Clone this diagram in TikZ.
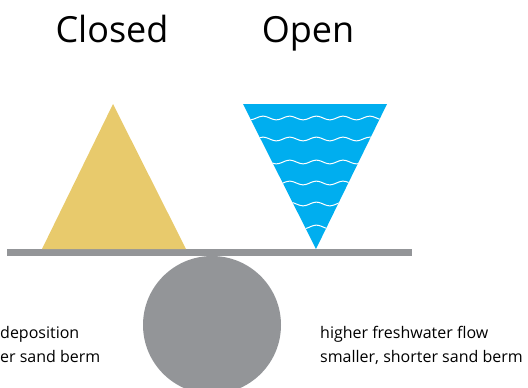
\documentclass[tikz,border=0pt]{standalone}
\usepackage{fontspec}
\setmainfont{Open Sans}
\definecolor{sand}{HTML}{E8CA6C}
\definecolor{water}{HTML}{00AEEF}
\definecolor{beam}{HTML}{939598}
\tikzset{
  title/.style={font=\fontsize{36}{40}\selectfont, inner sep=0pt, anchor=base},
  caption/.style={font=\fontsize{16}{24}\selectfont, align=left, inner sep=0pt, anchor=north west},
  wave/.style={white, line width=1pt}
}
\begin{document}
\begin{tikzpicture}[x=1pt,y=-1pt]
\useasboundingbox (0,0) rectangle (528,388);
\clip (0,0) rectangle (528,388);
\fill[beam] (212,325) circle (69);
\fill[beam] (7,249) rectangle (412,256);
\fill[sand] (42,249) -- (113,104) -- (186,249) -- cycle;
\fill[water] (243,104) -- (387,104) -- (316,249) -- cycle;
\begin{scope}
  \clip (243,104) -- (387,104) -- (316,249) -- cycle;
  \foreach \yy in {118,139,162,183,204,227}{
    \draw[wave] plot[domain=240:390, samples=120, smooth] (\x, {\yy + 1.8*sin((\x-243)/26.7*360)});
  }
\end{scope}
\node[title] (closed) at (112,42) {Closed};
\node[title] (open) at (308,42) {Open};
\node[caption] (left) at (0,326) {deposition\\er sand berm};
\node[caption] (right) at (320,326) {higher freshwater flow\\smaller, shorter sand berm};
\end{tikzpicture}
\end{document}
